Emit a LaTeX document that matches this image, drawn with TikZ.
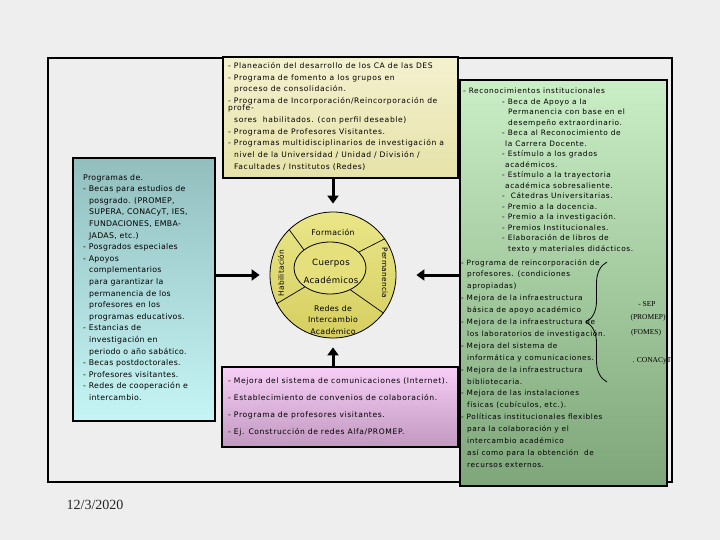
\documentclass[tikz,border=0pt]{standalone}
\usepackage{fontspec}
\setmainfont{DejaVu Sans}
\newfontfamily\spA[LetterSpace=8]{DejaVu Sans}
\newfontfamily\spB[LetterSpace=4]{DejaVu Sans}
\newfontfamily\datefont{Liberation Serif}
\usetikzlibrary{arrows.meta,shapes.geometric,decorations.pathreplacing}
\definecolor{bg}{RGB}{238,238,238}
\definecolor{topA}{RGB}{244,241,208}
\definecolor{topB}{RGB}{230,226,168}
\definecolor{leftA}{RGB}{146,190,190}
\definecolor{leftB}{RGB}{198,245,245}
\definecolor{greenA}{RGB}{202,238,198}
\definecolor{greenB}{RGB}{126,166,122}
\definecolor{pinkA}{RGB}{246,206,246}
\definecolor{pinkB}{RGB}{192,152,192}
\definecolor{cirA}{RGB}{234,230,136}
\definecolor{cirB}{RGB}{214,206,96}
\definecolor{ellF}{RGB}{230,224,124}
\newcommand{\myind}{\hspace*{6pt}}
\begin{document}
\begin{tikzpicture}[x=1pt,y=-1pt,
  box/.style={draw=black,line width=1.2pt,inner sep=0pt},
  txt/.style={inner sep=0pt,anchor=north west,align=left,text=black},
  arr/.style={line width=3pt,-{Triangle[length=8pt,width=11pt]}},
  lbl/.style={inner sep=0pt,text=black},
  srcl/.style={inner sep=0pt,text=black,font=\datefont\fontsize{7.5}{9}\selectfont}]
\useasboundingbox (0,0) rectangle (720,540);
\fill[bg] (0,0) rectangle (720,540);
\draw[line width=1.2pt] (48,58) rectangle (672,482);
% boxes
\node[box,minimum width=235pt,minimum height=121pt,top color=topA,bottom color=topB] (topb) at (340.5,117.5) {};
\node[box,minimum width=142pt,minimum height=263pt,top color=leftA,bottom color=leftB] (leftb) at (144,289.5) {};
\node[box,minimum width=207pt,minimum height=406pt,top color=greenA,bottom color=greenB] (greenb) at (563.5,283) {};
\node[box,minimum width=236pt,minimum height=80pt,top color=pinkA,bottom color=pinkB] (pinkb) at (340,407) {};
% circle
\node[circle,draw=black,line width=0.8pt,minimum size=126pt,top color=cirA,bottom color=cirB] (cir) at (333,275) {};
\node[ellipse,draw=black,line width=0.8pt,minimum width=72pt,minimum height=52pt,fill=ellF] (ell) at (330,268) {};
\draw[line width=0.7pt] (cir.134) -- (ell.145);
\draw[line width=0.7pt] (cir.35) -- (ell.29);
\draw[line width=0.7pt] (cir.-37) -- (ell.-47);
\draw[line width=0.7pt] (cir.-153) -- (ell.-143);
\node[lbl,font=\spB\fontsize{7.8}{10}\selectfont] (form) at (333,232) {Formación};
\node[lbl,font=\spB\fontsize{8.6}{18}\selectfont,align=center] (ca) at (331,271) {Cuerpos\\Académicos};
\node[lbl,font=\spB\fontsize{7.4}{10}\selectfont,rotate=90] (hab) at (281,273) {Habilitación};
\node[lbl,font=\spB\fontsize{7.4}{10}\selectfont,rotate=-90] (perm) at (385,273) {Permanencia};
\node[lbl,font=\spB\fontsize{7.8}{11.5}\selectfont,align=center] (redes) at (333,320) {Redes de\\Intercambio\\Académico};
% arrows
\draw[arr] (topb.south -| cir.center) -- ([yshift=8pt]cir.north);
\draw[arr] (pinkb.north -| cir.center) -- ([yshift=-9pt]cir.south);
\draw[arr] (leftb.east |- cir.center) -- ([xshift=-10pt]cir.west);
\draw[arr] (greenb.west |- cir.center) -- ([xshift=20pt]cir.east);
% top box text
\node[txt,font=\spA\fontsize{7.6}{11.8}\selectfont] (toptxt) at (228,62) {%
- Planeación del desarrollo de los CA de las DES\\
- Programa de fomento a los grupos en\\
\myind proceso de consolidación.\\
- Programa de Incorporación/Reincorporación de\\[-5pt]
profe-\\
\myind sores\ \ habilitados. (con perfil deseable)\\
- Programa de Profesores Visitantes.\\
- Programas multidisciplinarios de investigación a\\
\myind nivel de la Universidad / Unidad / División /\\
\myind Facultades / Institutos (Redes)};
% left box text
\node[txt,font=\spB\fontsize{7.8}{11.6}\selectfont] (lefttxt) at (83,174) {%
Programas de.\\
- Becas para estudios de\\
\myind posgrado. (PROMEP,\\
\myind SUPERA, CONACyT, IES,\\
\myind FUNDACIONES, EMBA-\\
\myind JADAS, etc.)\\
- Posgrados especiales\\
- Apoyos\\
\myind complementarios\\
\myind para garantizar la\\
\myind permanencia de los\\
\myind profesores en los\\
\myind programas educativos.\\
- Estancias de\\
\myind investigación en\\
\myind periodo o año sabático.\\
- Becas postdoctorales.\\
- Profesores visitantes.\\
- Redes de cooperación e\\
\myind intercambio.};
% pink box text
\node[txt,font=\spA\fontsize{7.6}{16.7}\selectfont] (pinktxt) at (228,378) {%
- Mejora del sistema de comunicaciones (Internet).\\
- Establecimiento de convenios de colaboración.\\
- Programa de profesores visitantes.\\
- Ej. Construcción de redes Alfa/PROMEP.};
% green box text
\node[txt,font=\spA\fontsize{7.4}{10.5}\selectfont] (greentxtA) at (463,88) {%
- Reconocimientos institucionales\\
\hspace*{39pt}- Beca de Apoyo a la\\
\hspace*{45pt}Permanencia con base en el\\
\hspace*{45pt}desempeño extraordinario.\\
\hspace*{39pt}- Beca al Reconocimiento de\\
\hspace*{42pt}la Carrera Docente.\\
\hspace*{39pt}- Estímulo a los grados\\
\hspace*{42pt}académicos.\\
\hspace*{39pt}- Estímulo a la trayectoria\\
\hspace*{42pt}académica sobresaliente.\\
\hspace*{39pt}-\ \ Cátedras Universitarias.\\
\hspace*{39pt}- Premio a la docencia.\\
\hspace*{39pt}- Premio a la investigación.\\
\hspace*{39pt}- Premios Institucionales.\\
\hspace*{39pt}- Elaboración de libros de\\
\hspace*{45pt}texto y materiales didácticos.};
\node[txt,font=\spA\fontsize{7.3}{11.9}\selectfont] (greentxtB) at (461,259) {%
- Programa de reincorporación de\\
\myind profesores. (condiciones\\
\myind apropiadas)\\
- Mejora de la infraestructura\\
\myind básica de apoyo académico\\
- Mejora de la infraestructura de\\
\myind los laboratorios de investigación.\\
- Mejora del sistema de\\
\myind informática y comunicaciones.\\
- Mejora de la infraestructura\\
\myind bibliotecaria.\\
- Mejora de las instalaciones\\
\myind físicas (cubículos, etc.).\\
- Políticas institucionales flexibles\\
\myind para la colaboración y el\\
\myind intercambio académico\\
\myind así como para la obtención\ \ de\\
\myind recursos externos.};
% brace and sources
\coordinate (bt) at (607,262);
\coordinate (bb) at (607,382);
\draw[line width=0.8pt,decorate,decoration={brace,mirror,amplitude=21pt}] (bt) -- (bb);
\node[srcl] (sep) at (647,304) {- SEP};
\node[srcl] (promep) at (648,318) {(PROMEP)};
\node[srcl] (fomes) at (646,333) {(FOMES)};
\node[srcl] (conacyt) at (652,361) {. CONACyT};
% date
\node[lbl,font=\datefont\fontsize{14}{16}\selectfont,text=black!85] (date) at (95,505) {12/3/2020};
\end{tikzpicture}
\end{document}
